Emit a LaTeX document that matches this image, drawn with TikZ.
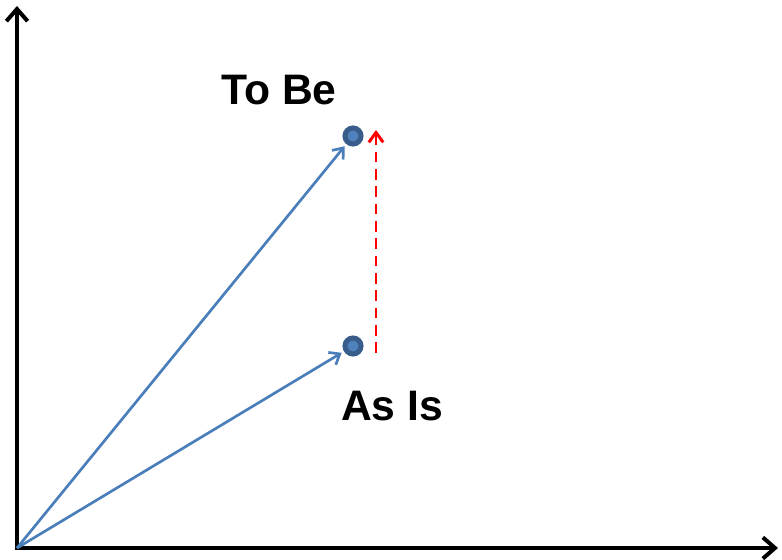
\documentclass[tikz,border=0pt]{standalone}
\usepackage{fontspec}
\setmainfont{Liberation Sans}
\usetikzlibrary{
    arrows.meta,
    positioning
}

\definecolor{vecblue}{HTML}{4A7EBB}
\definecolor{dotblue}{HTML}{4F81BD}
\definecolor{dotedge}{HTML}{385D8A}

\begin{document}
\begin{tikzpicture}[
        x=0.75pt,
        y=-0.75pt,
        every node/.style={
            font=\fontsize{32pt}{38pt}\selectfont\bfseries
        },
        axis/.style={
            {Straight Barb[length=3.2mm,width=5.6mm]}-{Straight Barb[length=3.2mm,width=5.6mm]},
            line width=3pt,
            draw=black
        },
        state/.style={
            circle,
            inner sep=0pt,
            minimum size=12pt,
            line width=3.8pt,
            draw=dotedge,
            fill=dotblue
        },
        vector/.style={
            -{Straight Barb[length=2.4mm,width=3.8mm]},
            line width=2pt,
            draw=vecblue,
            shorten >=2pt
        },
        gaparrow/.style={
            -{Straight Barb[length=2.6mm,width=3.8mm]},
            line width=2.2pt,
            draw=red,
            dash pattern=on 8pt off 5pt
        }
    ]

    \useasboundingbox (0,0) rectangle (782,560);

    % axes
    \coordinate (origin) at (17,548);
    \coordinate (ytop) at (17,6);
    \coordinate (xright) at (778,548);
    \draw[axis] (ytop) -- (origin) -- (xright);

    % states
    \node[state] (tobe) at (353,136) {};
    \node[state] (asis) at (353,346) {};

    \node (tobelabel) at (279,90) {To Be};
    \node (asislabel) at (392,406) {As Is};

    \draw[vector] (origin) -- (tobe);
    \draw[vector] (origin) -- (asis);

    % gap to close
    \coordinate (gapfrom) at (376,353);
    \coordinate (gapto) at (376,130);
    \draw[gaparrow] (gapfrom) -- (gapto);

\end{tikzpicture}
\end{document}
